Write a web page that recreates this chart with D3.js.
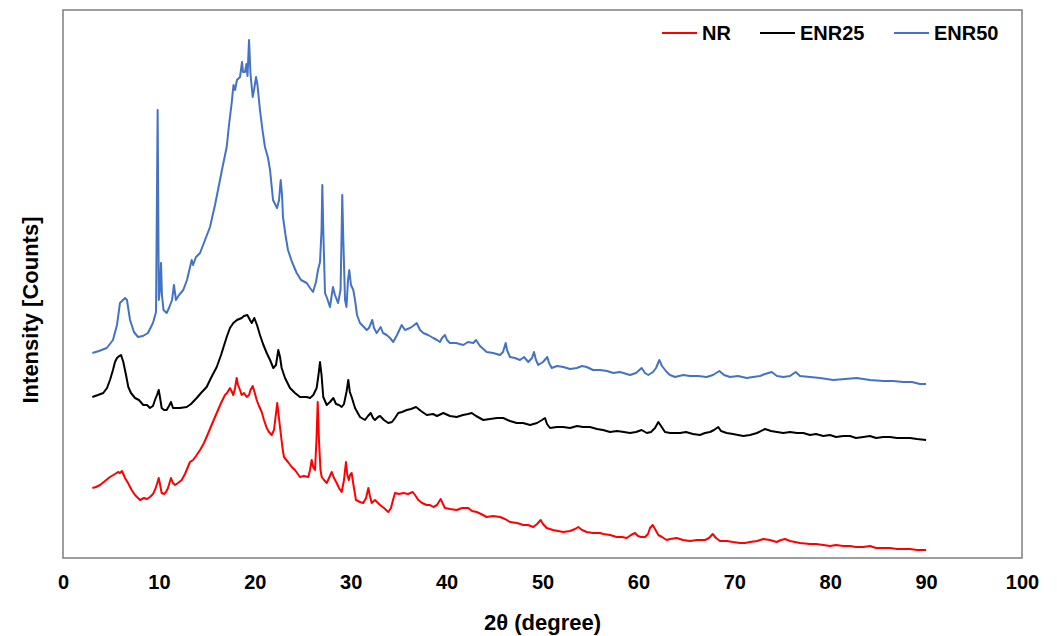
<!DOCTYPE html>
<html>
<head>
<meta charset="utf-8">
<script src="https://cdn.jsdelivr.net/npm/d3@7"></script>
<style>
  html, body { margin: 0; padding: 0; background: #fff; }
  svg { display: block; font-family: "Liberation Sans", Arial, sans-serif; }
</style>
</head>
<body>
<svg id="chart" width="1057" height="636"></svg>
<script>
// ---- data ----
const seriesNames = ["NR", "ENR25", "ENR50"];
const seriesColors = ["#FF0000", "#000000", "#4472C4"];
const xTicks = [0, 10, 20, 30, 40, 50, 60, 70, 80, 90, 100];

const nrTheta = [3.06,3.44,3.86,4.38,4.9,5.42,5.74,5.94,6.15,6.47,6.78,7.16,7.51,8.03,8.45,8.76,9.07,9.38,9.59,9.8,9.98,10.11,10.29,10.53,10.74,10.95,11.26,11.47,11.68,11.99,12.38,12.72,13.24,13.56,13.87,14.29,14.7,15.15,15.54,16.03,16.48,16.89,17.1,17.41,17.62,17.76,17.94,18.11,18.25,18.46,18.63,18.87,19.16,19.4,19.55,19.78,19.97,20.2,20.44,20.72,20.96,21.24,21.48,21.76,22.0,22.19,22.34,22.52,22.7,22.89,23.04,23.46,23.85,24.19,24.71,25.13,25.58,25.76,25.93,26.12,26.28,26.43,26.56,26.69,26.85,26.98,27.22,27.5,27.74,28.02,28.26,28.54,28.78,29.06,29.3,29.41,29.51,29.65,29.8,29.93,30.1,30.29,30.55,30.97,31.31,31.6,31.84,32.01,32.19,32.53,32.85,33.06,33.47,33.92,34.2,34.41,34.62,35.04,35.49,35.98,36.47,36.71,37.05,37.44,37.93,38.27,38.61,39.0,39.38,39.62,39.83,40.35,41.05,41.61,42.26,42.65,43.14,43.59,44.18,44.84,45.57,46.09,46.61,47.34,48.0,48.49,49.04,49.43,49.81,50.05,50.44,51.09,51.62,52.17,52.87,53.39,53.73,54.12,54.61,55.27,56.0,56.34,57.04,57.73,58.29,58.78,59.23,59.65,59.96,60.27,60.69,61.0,61.21,61.49,61.73,62.08,62.46,62.95,63.3,64.0,64.65,65.38,66.11,66.94,67.36,67.75,68.09,68.51,69.24,69.86,70.59,71.12,71.64,72.37,73.03,73.72,74.42,74.87,75.29,75.81,76.85,77.89,78.52,79.28,79.98,80.6,81.37,82.07,82.69,83.45,84.15,84.78,85.54,86.24,86.97,87.62,88.32,89.05,90.0];
const nrCounts = [70,71,73,77,81,84,86,85,87,80,75,68,63,58,60,59,61,64,68,74,80,74,65,64,66,70,80,75,73,75,78,84,96,98,102,108,115,125,134,145,155,163,165,170,166,163,170,180,173,168,163,165,161,163,168,172,166,158,152,146,138,130,126,123,128,143,155,140,125,110,101,96,91,88,81,82,81,88,98,90,88,118,156,118,88,81,78,75,80,86,80,75,70,66,78,88,96,83,78,83,85,73,58,56,55,60,70,62,55,58,55,53,50,46,50,58,65,64,65,64,66,63,58,55,53,53,51,53,59,54,50,49,48,50,50,47,46,44,41,42,41,39,36,35,33,33,31,34,38,34,30,28,27,26,27,29,31,28,26,25,25,24,23,21,21,20,23,25,22,21,21,24,30,33,29,23,21,18,19,20,18,17,18,18,20,24,20,17,17,16,15,15,16,17,19,18,16,18,19,17,15,14,14,13,12,13,12,12,11,11,12,10,10,10,9,9,9,8,8];

const enr25Theta = [3.06,3.65,4.2,4.59,4.9,5.21,5.42,5.63,5.87,6.05,6.29,6.57,6.81,7.09,7.51,7.92,8.37,8.76,9.07,9.38,9.59,9.8,9.98,10.11,10.29,10.53,10.81,11.05,11.26,11.47,11.68,12.2,12.9,13.35,13.94,14.39,14.98,15.43,16.03,16.48,17.07,17.41,17.76,18.14,18.63,18.87,19.22,19.5,19.68,19.95,20.23,20.54,20.86,21.24,21.59,21.93,22.21,22.45,22.63,22.8,23.15,23.67,24.19,24.71,25.41,25.76,26.1,26.45,26.64,26.8,26.96,27.14,27.5,27.84,28.19,28.47,28.78,29.06,29.3,29.56,29.75,29.91,30.1,30.45,30.97,31.49,31.8,32.09,32.33,32.53,32.85,33.06,33.47,33.92,34.31,34.62,34.96,35.35,35.84,36.29,36.81,37.33,37.93,38.58,39.0,39.66,40.35,41.05,41.71,42.23,42.62,43.07,43.83,44.52,45.26,45.91,46.61,47.31,47.97,48.7,49.43,49.95,50.26,50.47,50.78,51.51,52.14,52.87,53.6,54.22,54.95,55.68,56.31,57.04,57.77,58.5,59.12,59.75,60.34,60.87,61.31,61.73,62.08,62.36,62.77,63.3,63.92,64.34,64.96,65.69,66.42,66.94,67.47,67.88,68.33,68.61,69.21,69.86,70.39,70.94,71.64,72.37,73.2,73.83,74.45,75.11,75.81,76.54,77.2,77.89,78.52,79.28,79.98,80.6,81.37,82.07,82.69,83.45,84.15,84.78,85.54,86.24,86.97,87.62,88.32,89.05,90.0];
const enr25Counts = [161,163,165,170,178,188,196,200,202,203,196,183,171,165,160,158,153,153,150,152,158,163,168,161,150,148,148,152,156,150,150,150,151,154,160,165,171,180,191,203,221,230,235,238,240,242,243,238,235,240,233,223,214,205,198,190,193,208,201,190,180,170,165,161,161,160,163,170,183,196,183,161,153,156,160,154,153,151,154,166,178,166,161,150,141,138,142,145,140,138,141,142,138,135,136,140,145,146,148,149,151,147,143,144,142,145,142,141,143,144,145,142,138,139,140,140,137,135,135,133,135,138,140,134,130,131,131,130,132,131,131,129,128,126,127,126,125,126,128,125,126,130,136,132,126,125,125,125,126,124,123,125,126,128,131,127,125,124,123,122,123,125,129,127,126,125,126,125,125,123,124,122,123,121,122,122,120,121,122,120,121,121,120,120,120,119,118];

const enr50Theta = [3.06,3.75,4.56,5.21,5.63,5.94,6.47,6.67,6.99,7.4,7.82,8.34,8.86,9.38,9.7,9.87,9.99,10.11,10.22,10.32,10.48,10.81,11.05,11.37,11.57,11.78,12.1,12.54,12.93,13.42,13.56,13.87,14.29,14.81,15.33,15.85,16.37,16.68,17.07,17.31,17.59,17.67,17.78,17.94,18.14,18.46,18.67,18.77,18.98,19.13,19.24,19.4,19.55,19.78,19.92,20.13,20.28,20.54,20.8,21.06,21.38,21.59,21.9,22.11,22.32,22.53,22.7,22.84,22.94,23.2,23.46,23.88,24.37,24.82,25.41,25.76,26.07,26.38,26.59,26.8,26.96,27.04,27.14,27.32,27.53,27.84,28.15,28.36,28.68,28.94,29.04,29.12,29.23,29.41,29.56,29.72,29.85,30.03,30.27,30.45,30.66,30.97,31.28,31.67,31.91,32.25,32.43,32.71,33.13,33.37,33.75,34.1,34.44,34.83,35.32,35.66,36.18,36.5,36.88,37.23,37.57,38.06,38.61,39.0,39.31,39.52,39.83,40.04,40.35,40.98,41.74,42.23,42.78,43.07,43.48,44.18,44.84,45.57,45.88,46.16,46.3,46.61,47.13,47.65,48.07,48.52,48.91,49.11,49.32,49.56,50.05,50.5,50.68,50.96,51.51,52.17,52.87,53.57,54.12,54.61,55.27,56.0,56.73,57.38,58.08,59.12,59.75,60.34,60.69,61.03,61.52,61.84,62.18,62.46,62.95,63.3,63.82,64.68,65.38,66.22,67.12,67.78,68.44,68.93,69.55,70.39,71.29,71.95,72.68,73.2,73.9,74.45,75.11,75.81,76.4,76.85,77.9,78.94,80.32,81.54,82.76,84.15,85.54,86.55,87.62,88.53,89.36,90.0];
const enr50Counts = [205,207,210,218,233,255,260,258,238,226,221,222,225,235,246,448,258,268,295,263,248,245,250,258,273,258,263,268,278,298,293,301,305,318,331,353,378,393,411,433,455,463,473,468,478,481,496,486,486,494,482,518,484,461,468,481,473,448,428,411,400,388,358,354,350,358,378,363,341,323,308,296,285,278,275,270,266,276,288,296,328,373,328,265,260,251,271,263,255,268,318,363,318,258,251,278,288,273,268,258,243,235,232,228,230,238,230,225,231,225,223,220,216,223,233,228,230,232,235,228,225,223,220,218,216,220,223,218,215,215,213,216,215,218,212,206,205,203,206,215,208,201,200,198,201,196,200,206,198,193,196,201,195,190,192,191,189,190,192,191,188,188,187,185,186,183,185,190,185,183,186,190,198,192,186,183,181,183,182,182,181,183,187,183,181,182,180,181,182,184,186,182,181,182,186,182,181,180,178,179,180,178,177,177,176,176,174,174];

// ---- chart ----
const svg = d3.select("#chart");
const plot = { left: 63, top: 10, right: 1022, bottom: 558 };

const x = d3.scaleLinear().domain([0, 100]).range([plot.left, plot.right]);
const y = d3.scaleLinear().domain([0, 548]).range([plot.bottom, plot.top]);

const series = [
  { name: seriesNames[0], color: seriesColors[0], pts: d3.zip(nrTheta, nrCounts) },
  { name: seriesNames[1], color: seriesColors[1], pts: d3.zip(enr25Theta, enr25Counts) },
  { name: seriesNames[2], color: seriesColors[2], pts: d3.zip(enr50Theta, enr50Counts) }
];

// frame
svg.append("rect")
  .attr("x", plot.left).attr("y", plot.top)
  .attr("width", plot.right - plot.left).attr("height", plot.bottom - plot.top)
  .attr("fill", "none").attr("stroke", "#868686").attr("stroke-width", 1.6);

// x axis (labels only)
const xAxis = svg.append("g")
  .attr("transform", `translate(0,${plot.bottom})`)
  .call(d3.axisBottom(x).tickValues(xTicks).tickSize(0).tickPadding(17).tickFormat(d3.format("d")));
xAxis.select(".domain").remove();
xAxis.selectAll("text")
  .attr("font-family", '"Liberation Sans", Arial, sans-serif')
  .attr("font-size", 20).attr("font-weight", "bold").attr("fill", "#000");

// lines
const line = d3.line().x(d => x(d[0])).y(d => y(d[1]));
svg.append("g").selectAll("path").data(series).join("path")
  .attr("d", d => line(d.pts))
  .attr("fill", "none")
  .attr("stroke", d => d.color)
  .attr("stroke-width", 2)
  .attr("stroke-linejoin", "round");

// axis titles
svg.append("text")
  .attr("x", (plot.left + plot.right) / 2).attr("y", 622)
  .attr("text-anchor", "middle").attr("dominant-baseline", "central")
  .attr("font-size", 22).attr("font-weight", "bold")
  .text("2θ (degree)");
svg.append("text")
  .attr("transform", "translate(30,310) rotate(-90)")
  .attr("text-anchor", "middle").attr("dominant-baseline", "central")
  .attr("font-size", 22).attr("font-weight", "bold")
  .text("Intensity [Counts]");

// legend
const legendX = [662, 760, 894];
const lg = svg.append("g").selectAll("g").data(series).join("g")
  .attr("transform", (d, i) => `translate(${legendX[i]},33)`);
lg.append("line").attr("x1", 0).attr("x2", 35).attr("y1", 0).attr("y2", 0)
  .attr("stroke", d => d.color).attr("stroke-width", 2);
lg.append("text").attr("x", 40).attr("y", 0)
  .attr("dominant-baseline", "central")
  .attr("font-size", 20).attr("font-weight", "bold")
  .text(d => d.name);
</script>
</body>
</html>
